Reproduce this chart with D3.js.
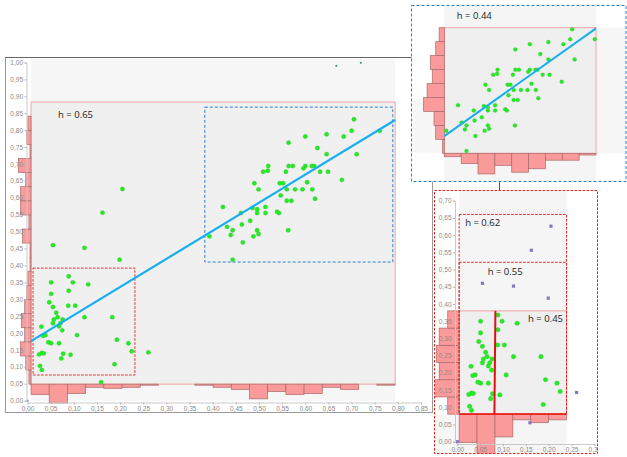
<!DOCTYPE html>
<html>
<head>
<meta charset="utf-8">
<script src="https://cdn.jsdelivr.net/npm/d3@7"></script>
<style>
  html, body { margin: 0; padding: 0; background: #fff; }
  svg { display: block; }
</style>
</head>
<body>
<svg id="chart" width="627" height="457"></svg>
<script>
// ---------- data ----------
// upper-right cluster
const upperX = [0.705,0.646,0.600,0.683,0.700,0.761,0.564,0.626,0.646,0.711,
                0.520,0.564,0.573,0.600,0.596,0.614,0.619,0.509,0.519,0.558,
                0.632,0.649,0.679,0.490,0.545,0.552,0.604,0.499,0.560,0.578,
                0.594,0.615,0.547,0.621,0.560,0.570,0.422,0.486,0.496,0.514,
                0.496,0.514,0.539,0.543,0.461,0.481,0.463,0.431,0.443,0.496,
                0.563,0.439,0.499,0.488,0.393,0.465,0.443];
const upperY = [0.832,0.788,0.781,0.781,0.798,0.798,0.763,0.747,0.729,0.729,
                0.694,0.694,0.694,0.694,0.687,0.694,0.694,0.677,0.680,0.677,
                0.677,0.677,0.653,0.643,0.643,0.643,0.646,0.625,0.625,0.625,
                0.625,0.625,0.607,0.597,0.591,0.591,0.573,0.570,0.566,0.573,
                0.555,0.555,0.559,0.555,0.555,0.532,0.521,0.514,0.504,0.504,
                0.504,0.490,0.493,0.486,0.486,0.468,0.417];
// lower-left cluster
const lowerX = [0.205,0.162,0.055,0.123,0.199,0.089,0.051,0.098,0.131,0.089,
                0.051,0.047,0.055,0.088,0.103,0.062,0.065,0.057,0.076,0.123,
                0.183,0.055,0.071,0.068,0.030,0.075,0.034,0.039,0.107,0.045,
                0.051,0.068,0.193,0.218,0.225,0.261,0.031,0.035,0.025,0.077,
                0.093,0.073,0.188,0.027,0.031,0.159];
const lowerY = [0.626,0.556,0.460,0.452,0.417,0.368,0.350,0.350,0.344,0.325,
                0.316,0.291,0.277,0.281,0.281,0.260,0.247,0.240,0.240,0.247,
                0.247,0.229,0.229,0.220,0.219,0.208,0.192,0.194,0.194,0.173,
                0.170,0.170,0.180,0.170,0.146,0.143,0.141,0.140,0.137,0.139,
                0.136,0.125,0.108,0.103,0.091,0.055];
// faint marks near the top and at the origin
const faintX = [0.667, 0.720];
const faintY = [0.990, 0.999];
const originX = [0.0];
const originY = [0.0];

// main panel (h = 0.65)
const mainLabel = "h = 0.65";
const mainRegion = [0.0076, 0.794, 0.049, 0.883];      // x0, x1, y0, y1
const mainBoxUpper = [0.383, 0.789, 0.410, 0.868];
const mainBoxLower = [0.012, 0.232, 0.076, 0.392];
const mainFit = [0.170, 0.831];                         // intercept, slope
const mainHistX = [10,18,9,3,4,3,1,0,0,1,3,5,14,7,10,9,3,5,0,1];
const mainHistY = [2,5,10,6,9,6,4,3,1,1,8,2,10,10,5,12,1,4,3,0];
const mainTicksX = [0,0.05,0.10,0.15,0.20,0.25,0.30,0.35,0.40,0.45,0.50,0.55,0.60,0.65,0.70,0.75,0.80,0.85];
const mainTicksY = [0,0.05,0.10,0.15,0.20,0.25,0.30,0.35,0.40,0.45,0.50,0.55,0.60,0.65,0.70,0.75,0.80,0.85,0.90,0.95,1.00];

// upper detail panel (h = 0.44)
const upLabel = "h = 0.44";
const upRegion = [0.388, 0.764, 0.409, 0.837];
const upFit = [0.089, 0.976];
const upHistX = [2,6,12,7,11,9,4,4,1];
const upHistY = [1,5,6,12,10,7,8,5,3];

// lower detail panel (h = 0.45 / 0.55 / 0.62)
const lowLabels = ["h = 0.62", "h = 0.55", "h = 0.45"];
const lowRegion = [0.004, 0.239, 0.080, 0.380];
const lowOuterTops = [0.660, 0.521];
const lowFitX = [0.0812, 0.0834];
const lowHistX = [10,14,8,2,3,2];
const lowHistY = [4,9,7,8,7,4];
const lowTicksX = [0,0.05,0.10,0.15,0.20,0.25,0.30];
const lowTicksY = [0,0.05,0.10,0.15,0.20,0.25,0.30,0.35,0.40,0.45,0.50,0.55,0.60,0.65,0.70];

// ---------- drawing ----------
const svg = d3.select("#chart");
const fmt = v => d3.format(".2f")(v).replace(".", ",");
const GREEN = "#19f219", PURPLE = "#8479c0", BAR = "#fb9a9a", BAR_EDGE = "#a86a6a";
const LINE = "#19aef0", RED = "#e8261f", BLUE = "#2f7fd0", PINK_EDGE = "#f3a3a3";
const LABEL_FONT = "'Open Sans', 'Noto Sans', sans-serif";
const AXIS_FONT = "'Liberation Sans', Arial, sans-serif";

const allX = upperX.concat(lowerX), allY = upperY.concat(lowerY);

function binEdges(a, b, n) { return d3.range(n + 1).map(i => a + (b - a) * i / n); }

function styleAxis(g) {
  g.select(".domain").attr("stroke", "#c9c9c9");
  g.selectAll(".tick line").attr("stroke", "#b5b5b5");
  g.selectAll(".tick text").attr("fill", "#8a8a8a").attr("font-size", "6.5px").attr("font-family", AXIS_FONT);
}

function histograms(g, xs, ys, region, countsX, countsY, lenScale) {
  const ex = binEdges(region[0], region[1], countsX.length);
  g.append("g").selectAll("rect").data(countsX.map((c, i) => ({c, i})).filter(d => d.c > 0))
    .join("rect")
    .attr("x", d => xs(ex[d.i])).attr("width", d => xs(ex[d.i + 1]) - xs(ex[d.i]))
    .attr("y", ys(region[2])).attr("height", d => lenScale(d.c))
    .attr("fill", BAR).attr("stroke", BAR_EDGE).attr("stroke-width", 0.7);
  const ey = binEdges(region[2], region[3], countsY.length);
  g.append("g").selectAll("rect").data(countsY.map((c, i) => ({c, i})).filter(d => d.c > 0))
    .join("rect")
    .attr("x", d => xs(region[0]) - lenScale(d.c)).attr("width", d => lenScale(d.c))
    .attr("y", d => ys(ey[d.i + 1])).attr("height", d => ys(ey[d.i]) - ys(ey[d.i + 1]))
    .attr("fill", BAR).attr("stroke", BAR_EDGE).attr("stroke-width", 0.7);
}

function regionRect(g, xs, ys, r, fill, stroke, dash) {
  return g.append("rect")
    .attr("x", xs(r[0])).attr("y", ys(r[3]))
    .attr("width", xs(r[1]) - xs(r[0])).attr("height", ys(r[2]) - ys(r[3]))
    .attr("fill", fill).attr("stroke", stroke).attr("stroke-width", 1)
    .attr("stroke-dasharray", dash || null);
}

function dots(g, xs, ys, X, Y, r, color) {
  g.append("g").selectAll("circle").data(X.map((x, i) => [x, Y[i]])).join("circle")
    .attr("cx", d => xs(d[0])).attr("cy", d => ys(d[1])).attr("r", r)
    .attr("fill", color).attr("stroke", "rgba(130,150,130,0.5)").attr("stroke-width", 0.5);
}

// ===== main panel =====
const mx = d3.scaleLinear([0, 0.85], [27.5, 27.5 + 0.85 * 463]);
const my = d3.scaleLinear([0, 1], [400.7, 62.5]);
const mLen = d3.scaleLinear([0, 1], [0, 1.05]);

const main = svg.append("g");
main.append("rect").attr("x", 5.5).attr("y", 57.5).attr("width", 427).attr("height", 355)
  .attr("fill", "#fff").attr("stroke", "#9a9a9a");
main.append("line").attr("x1", 5).attr("x2", 432).attr("y1", 57.5).attr("y2", 57.5)
  .attr("stroke", "#666").attr("stroke-width", 1.2);
main.append("rect").attr("x", mx(mainRegion[0])).attr("y", 58.5)
  .attr("width", mx(mainRegion[1]) - mx(mainRegion[0])).attr("height", my(0) - 58.5)
  .attr("fill", "#f6f6f6");

regionRect(main, mx, my, mainRegion, "#f0f0f0", PINK_EDGE);
histograms(main, mx, my, mainRegion, mainHistX, mainHistY, mLen);
regionRect(main, mx, my, mainBoxLower, "none", RED, "2.5,1.5");
regionRect(main, mx, my, mainBoxUpper, "none", BLUE, "3,2");

dots(main, mx, my, allX, allY, 2.2, GREEN);
main.append("g").selectAll("circle").data(faintX.map((x, i) => [x, faintY[i]])).join("circle")
  .attr("cx", d => mx(d[0])).attr("cy", d => my(d[1])).attr("r", 1.1).attr("fill", "#3f9f80");
main.append("g").selectAll("rect").data(originX.map((x, i) => [x, originY[i]])).join("rect")
  .attr("x", d => mx(d[0]) - 1).attr("y", d => my(d[1]) - 1).attr("width", 2).attr("height", 2)
  .attr("fill", PURPLE);

main.append("line")
  .attr("x1", mx(mainRegion[0])).attr("y1", my(mainFit[0] + mainFit[1] * mainRegion[0]))
  .attr("x2", mx(mainRegion[1])).attr("y2", my(mainFit[0] + mainFit[1] * mainRegion[1]))
  .attr("stroke", LINE).attr("stroke-width", 2.2);

main.append("text").attr("x", mx(mainRegion[0]) + 27).attr("y", my(mainRegion[3]) + 16)
  .attr("font-family", LABEL_FONT).attr("font-size", "9.5px").attr("fill", "#222").text(mainLabel);

main.append("g").attr("transform", "translate(0,402.5)")
  .call(d3.axisBottom(mx).tickValues(mainTicksX).tickFormat(fmt).tickSize(2).tickPadding(1.5))
  .call(styleAxis);
main.append("g").attr("transform", "translate(26.5,0)")
  .call(d3.axisLeft(my).tickValues(mainTicksY).tickFormat(fmt).tickSize(2).tickPadding(1.5))
  .call(styleAxis);

// ===== upper detail panel =====
const ux = d3.scaleLinear([upRegion[0], upRegion[1]], [444.3, 596]);
const uy = d3.scaleLinear([upRegion[2], upRegion[3]], [153.3, 27.7]);
const uLen = d3.scaleLinear([0, 1], [0, 1.72]);

svg.append("line").attr("x1", 499.5).attr("x2", 499.5).attr("y1", 181).attr("y2", 191)
  .attr("stroke", "#555").attr("stroke-width", 1);

svg.append("clipPath").attr("id", "clipUp").append("rect")
  .attr("x", 411.5).attr("y", 5.5).attr("width", 214.5).attr("height", 176);
const up = svg.append("g");
up.append("rect").attr("x", 411.5).attr("y", 5.5).attr("width", 214.5).attr("height", 176).attr("fill", "#fff");
const upIn = up.append("g").attr("clip-path", "url(#clipUp)");
upIn.append("rect").attr("x", ux(upRegion[0])).attr("y", 6).attr("width", ux(upRegion[1]) - ux(upRegion[0]))
  .attr("height", 175).attr("fill", "#f5f5f5");
upIn.append("rect").attr("x", ux(upRegion[1])).attr("y", uy(upRegion[3]))
  .attr("width", 40).attr("height", uy(upRegion[2]) - uy(upRegion[3])).attr("fill", "#f6f6f6");
upIn.append("rect").attr("x", 411.5).attr("y", 100)
  .attr("width", ux(upRegion[0]) - 411.5).attr("height", uy(upRegion[2]) - 100).attr("fill", "#f7f7f7");
regionRect(upIn, ux, uy, upRegion, "#efefef", PINK_EDGE);
histograms(upIn, ux, uy, upRegion, upHistX, upHistY, uLen);
dots(upIn, ux, uy, upperX, upperY, 2.0, GREEN);
upIn.append("line")
  .attr("x1", ux(upRegion[0])).attr("y1", uy(upFit[0] + upFit[1] * upRegion[0]))
  .attr("x2", ux(upRegion[1])).attr("y2", uy(upFit[0] + upFit[1] * upRegion[1]))
  .attr("stroke", LINE).attr("stroke-width", 2);
upIn.append("text").attr("x", ux(upRegion[0]) + 12.5).attr("y", uy(upRegion[3]) - 8.5)
  .attr("font-family", LABEL_FONT).attr("font-size", "9.5px").attr("fill", "#222").text(upLabel);
up.append("rect").attr("x", 411.5).attr("y", 5.5).attr("width", 214.5).attr("height", 176)
  .attr("fill", "none").attr("stroke", BLUE).attr("stroke-dasharray", "3,2");

// ===== lower detail panel =====
const lx = d3.scaleLinear([0, 0.30], [457.3, 457.3 + 0.30 * 457]);
const ly = d3.scaleLinear([0, 0.70], [441.7, 441.7 - 0.70 * 344.3]);
const lLen = d3.scaleLinear([0, 1], [0, 2.85]);

svg.append("clipPath").attr("id", "clipLow").append("rect")
  .attr("x", 434.5).attr("y", 190.5).attr("width", 163).attr("height", 263);
const low = svg.append("g");
low.append("rect").attr("x", 434.5).attr("y", 190.5).attr("width", 163).attr("height", 263).attr("fill", "#fff");
const lowIn = low.append("g").attr("clip-path", "url(#clipLow)");
lowIn.append("rect").attr("x", lx(lowRegion[0])).attr("y", 191)
  .attr("width", lx(lowRegion[1]) - lx(lowRegion[0])).attr("height", 262).attr("fill", "#f5f5f5");
lowIn.append("rect").attr("x", 434.5).attr("y", ly(lowRegion[2]))
  .attr("width", lx(lowRegion[0]) - 434.5).attr("height", 453.5 - ly(lowRegion[2])).attr("fill", "#f7f7f7");

regionRect(lowIn, lx, ly, lowRegion, "#efefef", PINK_EDGE);
histograms(lowIn, lx, ly, lowRegion, lowHistX, lowHistY, lLen);
lowOuterTops.forEach(top => {
  regionRect(lowIn, lx, ly, [lowRegion[0], lowRegion[1], lowRegion[2], top], "none", RED, "2.5,1.5");
});
lowIn.append("line").attr("x1", lx(lowRegion[0])).attr("x2", lx(lowRegion[1]))
  .attr("y1", ly(lowRegion[2])).attr("y2", ly(lowRegion[2]))
  .attr("stroke", RED).attr("stroke-width", 1.6);

// points inside the h = 0.45 region are green, the rest purple
const inside = (x, y) => x >= lowRegion[0] && x <= lowRegion[1] && y >= lowRegion[2] && y <= lowRegion[3];
const lowPts = allX.map((x, i) => [x, allY[i]]).concat(originX.map((x, i) => [x, originY[i]]));
lowIn.append("g").selectAll("rect").data(lowPts.filter(d => !inside(d[0], d[1]))).join("rect")
  .attr("x", d => lx(d[0]) - 1.6).attr("y", d => ly(d[1]) - 1.6).attr("width", 3.2).attr("height", 3.2)
  .attr("fill", PURPLE);
const inPts = lowPts.filter(d => inside(d[0], d[1]));
dots(lowIn, lx, ly, inPts.map(d => d[0]), inPts.map(d => d[1]), 2.3, GREEN);

lowIn.append("line")
  .attr("x1", lx(lowFitX[0])).attr("y1", ly(lowRegion[2]))
  .attr("x2", lx(lowFitX[1])).attr("y2", ly(lowRegion[3]))
  .attr("stroke", "#e41010").attr("stroke-width", 2);

const labelPos = [[lx(lowRegion[0]) + 6, ly(lowOuterTops[0]) + 11.5],
                  [lx(lowRegion[0]) + 28.5, ly(lowOuterTops[1]) + 12.5],
                  [lx(lowRegion[1]) - 38.5, ly(lowRegion[3]) + 11]];
lowIn.append("g").selectAll("text").data(lowLabels).join("text")
  .attr("x", (d, i) => labelPos[i][0]).attr("y", (d, i) => labelPos[i][1])
  .attr("font-family", LABEL_FONT).attr("font-size", "9.5px").attr("fill", "#222").text(d => d);

lowIn.append("g").attr("transform", "translate(0,444)")
  .call(d3.axisBottom(lx).tickValues(lowTicksX).tickFormat(fmt).tickSize(2).tickPadding(1.5))
  .call(styleAxis);
lowIn.append("g").attr("transform", "translate(455,0)")
  .call(d3.axisLeft(ly).tickValues(lowTicksY).tickFormat(fmt).tickSize(2).tickPadding(1.5))
  .call(styleAxis);

low.append("rect").attr("x", 434.5).attr("y", 190.5).attr("width", 163).attr("height", 263)
  .attr("fill", "none").attr("stroke", RED).attr("stroke-dasharray", "2.5,1.5");
</script>
</body>
</html>
